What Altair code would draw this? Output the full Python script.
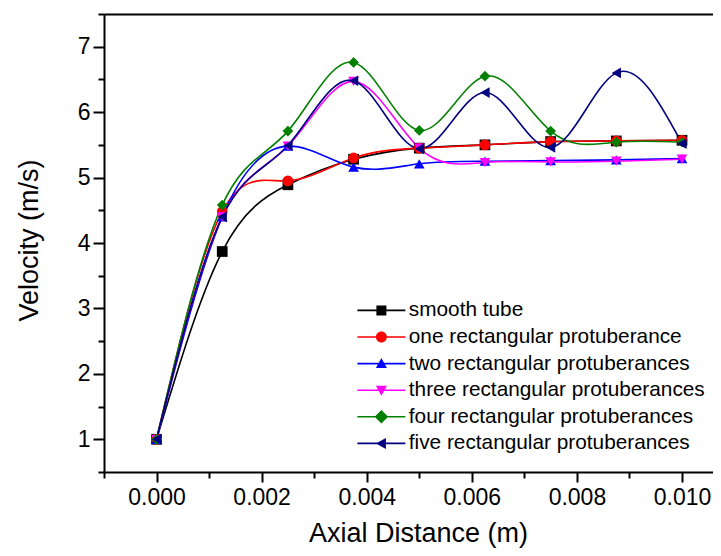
import altair as alt
import pandas as pd

x_pos = [0.0, 0.00125, 0.0025, 0.00375, 0.005, 0.00625, 0.0075, 0.00875, 0.010]

series = [
    "smooth tube",
    "one rectangular protuberance",
    "two rectangular protuberances",
    "three rectangular protuberances",
    "four rectangular protuberances",
    "five rectangular protuberances",
]
smooth = [1.0, 3.87, 4.89, 5.28, 5.45, 5.50, 5.55, 5.56, 5.57]
one = [1.0, 4.48, 4.95, 5.30, 5.45, 5.50, 5.55, 5.56, 5.57]
two = [1.0, 4.40, 5.48, 5.16, 5.21, 5.25, 5.26, 5.27, 5.29]
three = [1.0, 4.40, 5.48, 6.47, 5.45, 5.23, 5.24, 5.25, 5.28]
four = [1.0, 4.58, 5.71, 6.76, 5.72, 6.55, 5.71, 5.54, 5.54]
five = [1.0, 4.40, 5.49, 6.48, 5.44, 6.30, 5.46, 6.60, 5.52]
values = [smooth, one, two, three, four, five]

colors = ["#000000", "#ff0000", "#0000ff", "#ff00ff", "#008000", "#000080"]
shapes = ["square", "circle", "triangle-up", "triangle-down", "diamond", "triangle-left"]

x_major = [0.0, 0.002, 0.004, 0.006, 0.008, 0.010]
x_minor = [-0.001, 0.001, 0.003, 0.005, 0.007, 0.009]
y_major = [1, 2, 3, 4, 5, 6, 7]
y_minor = [0.5, 1.5, 2.5, 3.5, 4.5, 5.5, 6.5, 7.5]

rows = []
for name, vals in zip(series, values):
    for xv, yv in zip(x_pos, vals):
        rows.append({"x": xv, "v": yv, "series": name})
df = pd.DataFrame(rows)

# legend symbols: line segment + marker (unit coords, r = 5 px)
bar = "M-4.8,-0.16H4.8V0.16H-4.8Z "
legend_paths = [
    bar + "M-1.0,-1.0H1.0V1.0H-1.0Z",
    bar + "M1.1,0A1.1,1.1 0 1,1 -1.1,0A1.1,1.1 0 1,1 1.1,0Z",
    bar + "M0,-1.1L1.1,0.9L-1.1,0.9Z",
    bar + "M-1.1,-0.9L1.1,-0.9L0,1.1Z",
    bar + "M0,-1.35L1.35,0L0,1.35L-1.35,0Z",
    bar + "M-1.1,0L0.9,-1.1L0.9,1.1Z",
]

FONT = "Liberation Sans"
xscale = alt.Scale(domain=[-0.001, 0.01059], nice=False, zero=False)
yscale = alt.Scale(domain=[0.5, 7.5], nice=False, zero=False)
cscale = alt.Scale(domain=series, range=colors)

x_axis_major = alt.Axis(
    orient="bottom", values=x_major, format=".3f", title="Axial Distance (m)",
    grid=False, domainColor="black", domainWidth=2, tickColor="black", tickWidth=2,
    tickSize=10, labelFont=FONT, labelFontSize=23, labelColor="black", labelPadding=4,
    titleFont=FONT, titleFontSize=27, titleFontWeight="normal", titleColor="black",
    titleX=314, titleY=61, titleBaseline="middle", titleAlign="center",
)
y_axis_major = alt.Axis(
    orient="left", values=y_major, format="d", title="Velocity (m/s)",
    grid=False, domainColor="black", domainWidth=2, tickColor="black", tickWidth=2,
    tickSize=11, labelFont=FONT, labelFontSize=23, labelColor="black", labelPadding=3,
    titleFont=FONT, titleFontSize=27, titleFontWeight="normal", titleColor="black",
    titleX=-75, titleY=226, titleBaseline="middle", titleAlign="center", titleAngle=270,
)
x_axis_minor = alt.Axis(
    orient="bottom", values=x_minor, labels=False, title=None, grid=False, domain=False,
    tickColor="black", tickWidth=2, tickSize=6,
)
y_axis_minor = alt.Axis(
    orient="left", values=y_minor, labels=False, title=None, grid=False, domain=False,
    tickColor="black", tickWidth=2, tickSize=6,
)
x_axis_top = alt.Axis(
    orient="top", labels=False, ticks=False, title=None, grid=False,
    domainColor="black", domainWidth=2,
)

lines = alt.Chart(df).mark_line(interpolate="natural", strokeWidth=1.6).encode(
    x=alt.X("x:Q", scale=xscale, axis=x_axis_major),
    y=alt.Y("v:Q", scale=yscale, axis=y_axis_major),
    color=alt.Color("series:N", scale=cscale, legend=None),
    detail="series:N",
)

points = alt.Chart(df).mark_point(filled=True, size=115, opacity=1).encode(
    x=alt.X("x:Q", scale=xscale, axis=x_axis_minor),
    y=alt.Y("v:Q", scale=yscale, axis=y_axis_minor),
    color=alt.Color("series:N", scale=cscale, legend=None),
    shape=alt.Shape("series:N", scale=alt.Scale(domain=series, range=shapes), legend=None),
)

legend_kw = dict(
    title=None, orient="none", legendX=267, legendY=286, padding=0,
    labelFont=FONT, labelFontSize=20.8, labelColor="black", labelOffset=17,
    symbolSize=100, symbolStrokeWidth=0, rowPadding=4.6, labelLimit=400,
)
legend_layer = alt.Chart(df).transform_filter("datum.x < -1").mark_point(
    filled=True, opacity=1
).encode(
    x=alt.X("x:Q", scale=xscale, axis=x_axis_top),
    y=alt.Y("v:Q", scale=yscale, axis=None),
    color=alt.Color("series:N", scale=alt.Scale(domain=series, range=colors),
                    legend=alt.Legend(**legend_kw)),
    shape=alt.Shape("series:N", scale=alt.Scale(domain=series, range=legend_paths),
                    legend=alt.Legend(**legend_kw)),
)

chart = alt.layer(lines, points, legend_layer).resolve_scale(
    color="independent", shape="independent"
).resolve_axis(x="independent", y="independent").properties(
    width=609, height=458,
    autosize=alt.AutoSizeParams(type="none"),
    padding={"left": 96, "top": 6, "right": 0, "bottom": 76},
).configure_view(stroke=None).configure(background="white")

chart.save("out.html", embed_options={"renderer": "svg", "actions": False})
